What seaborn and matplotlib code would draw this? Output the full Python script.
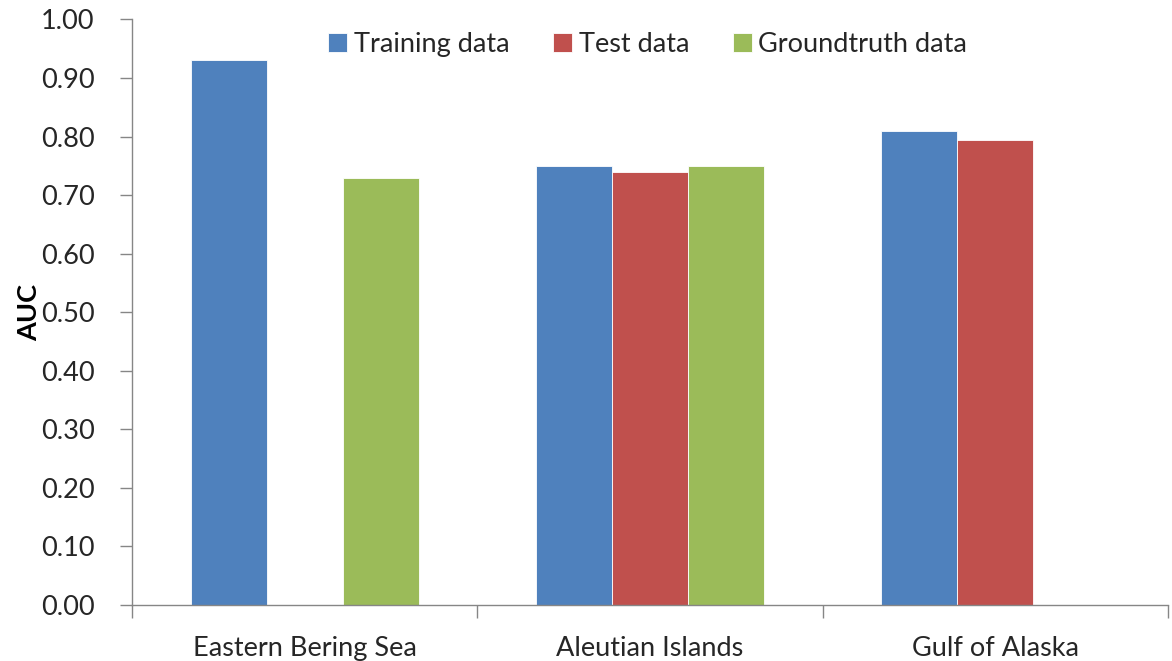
import numpy as np
import pandas as pd
import seaborn as sns
import matplotlib
matplotlib.use("Agg")
import matplotlib.pyplot as plt
from matplotlib.ticker import FixedLocator, FormatStrFormatter

# Regions and AUC scores per data set (NaN = not available)
regions = ["Eastern Bering Sea", "Aleutian Islands", "Gulf of Alaska"]
series = ["Training data", "Test data", "Groundtruth data"]
training_auc = [0.93, 0.75, 0.81]
test_auc = [np.nan, 0.74, 0.795]
groundtruth_auc = [0.73, 0.75, np.nan]
colors = ["#4F81BD", "#C0504D", "#9BBB59"]
y_ticks = [0.0, 0.1, 0.2, 0.3, 0.4, 0.5, 0.6, 0.7, 0.8, 0.9, 1.0]

df = pd.DataFrame({
    "Region": regions * 3,
    "Series": [s for s in series for _ in regions],
    "AUC": training_auc + test_auc + groundtruth_auc,
}).dropna()

sns.set_style("white")
plt.rcParams["font.family"] = ["Lato", "DejaVu Sans"]

fig = plt.figure(figsize=(11.72, 6.61), dpi=100)
ax = fig.add_axes([0.1126, 0.0847, 0.8840, 0.8858])

sns.barplot(data=df, x="Region", y="AUC", hue="Series",
            order=regions, hue_order=series, palette=colors,
            width=0.66, dodge=True, errorbar=None, ax=ax,
            edgecolor="white", linewidth=0.6, saturation=1)

ax.set_xlim(-0.5, len(regions) - 0.5)
ax.set_ylim(0, 1.0)
ax.yaxis.set_major_locator(FixedLocator(y_ticks))
ax.yaxis.set_major_formatter(FormatStrFormatter("%.2f"))

text_color = "#262626"
axis_color = "#868686"
fs = 19.5
ax.tick_params(axis="y", which="major", direction="out", length=9, width=1,
               color=axis_color, labelsize=fs, labelcolor=text_color, pad=18, left=True)
# category labels centred, boundary tick marks as minor ticks
ax.tick_params(axis="x", which="major", length=0, labelsize=fs,
               labelcolor=text_color, pad=22)
ax.set_xticks(np.arange(-0.5, len(regions), 1.0), minor=True)
ax.tick_params(axis="x", which="minor", direction="out", length=9, width=1,
               color=axis_color, bottom=True)

for side in ["top", "right"]:
    ax.spines[side].set_visible(False)
for side in ["left", "bottom"]:
    ax.spines[side].set_color(axis_color)
    ax.spines[side].set_linewidth(1)

ax.set_xlabel("")
ax.set_ylabel("AUC", fontsize=fs, fontweight="bold", color="black", labelpad=0)

handles, labels = ax.get_legend_handles_labels()
leg = ax.legend(handles, labels, loc="center", bbox_to_anchor=(0.498, 0.957),
                ncol=3, frameon=False, fontsize=fs, handlelength=0.7,
                handleheight=0.7, handletextpad=0.25, columnspacing=1.6)
for t in leg.get_texts():
    t.set_color(text_color)

fig.savefig("out.png", dpi=100)
